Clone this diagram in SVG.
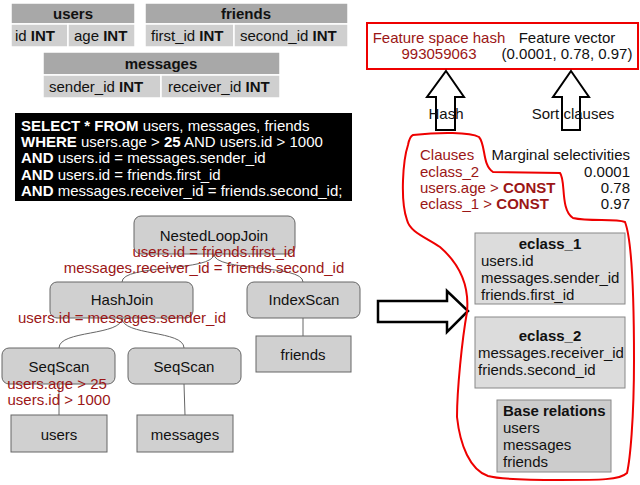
<svg xmlns="http://www.w3.org/2000/svg" width="640" height="485" viewBox="0 0 640 485">
<style>
text{font-family:"Liberation Sans",Arial,sans-serif;font-size:15px;fill:#111}
.b{font-weight:bold}
.hd{fill:#a8a8a8;stroke:#fff;stroke-width:1.5}
.cl{fill:#cfcfcf;stroke:#fff;stroke-width:1.5}
.nd{fill:#d0d0d0;stroke:#666;stroke-width:1}
.red{fill:#9b1616}
.sql{fill:#fff}
.c{text-anchor:middle}
.r{text-anchor:end}
.con{fill:none;stroke:#666;stroke-width:1}
.hol{fill:#fff;stroke:#000;stroke-width:2}
.box{fill:#dcdcdc;stroke:#888;stroke-width:1}
</style>
<rect width="640" height="485" fill="#fff"/>
<g id="table-users">
<rect class="hd" x="11" y="3" width="124" height="21"/>
<rect class="cl" x="11" y="24" width="57" height="23"/>
<rect class="cl" x="68" y="24" width="67" height="23"/>
<text class="b c" x="73" y="19">users</text>
<text x="15" y="41">id <tspan class="b">INT</tspan></text>
<text x="74" y="41">age <tspan class="b">INT</tspan></text>
</g>
<g id="table-friends">
<rect class="hd" x="145" y="3" width="203" height="21"/>
<rect class="cl" x="145" y="24" width="89" height="23"/>
<rect class="cl" x="234" y="24" width="114" height="23"/>
<text class="b c" x="246" y="19">friends</text>
<text x="151" y="41">first_id <tspan class="b">INT</tspan></text>
<text x="240" y="41">second_id <tspan class="b">INT</tspan></text>
</g>
<g id="table-messages">
<rect class="hd" x="43" y="52" width="237" height="23"/>
<rect class="cl" x="43" y="75" width="118" height="23"/>
<rect class="cl" x="161" y="75" width="119" height="23"/>
<text class="b c" x="161" y="69">messages</text>
<text x="49" y="92">sender_id <tspan class="b">INT</tspan></text>
<text x="168" y="92">receiver_id <tspan class="b">INT</tspan></text>
</g>
<g id="sql">
<rect x="15" y="113" width="337" height="88" fill="#000"/>
<text class="sql" x="21" y="131"><tspan class="b">SELECT * FROM</tspan> users, messages, friends</text>
<text class="sql" x="21" y="147"><tspan class="b">WHERE</tspan> users.age &gt; <tspan class="b">25</tspan> AND users.id &gt; 1000</text>
<text class="sql" x="21" y="163"><tspan class="b">AND</tspan> users.id = messages.sender_id</text>
<text class="sql" x="21" y="180"><tspan class="b">AND</tspan> users.id = friends.first_id</text>
<text class="sql" x="21" y="196"><tspan class="b">AND</tspan> messages.receiver_id = friends.second_id;</text>
</g>
<g id="connectors">
<path class="con" d="M214,254 C214,272 122,264 122,282"/>
<path class="con" d="M214,254 C214,272 303,264 303,282"/>
<path class="con" d="M122,318 C122,336 59,330 59,348"/>
<path class="con" d="M122,318 C122,336 184,330 184,348"/>
<path class="con" d="M303,318 L303,336"/>
<path class="con" d="M59,384 L59,415"/>
<path class="con" d="M184,384 L185,415"/>
</g>
<g id="node-nlj">
<rect class="nd" x="134" y="216" width="161" height="38" rx="7"/>
<text class="c" x="214" y="241">NestedLoopJoin</text>
</g>
<g id="node-hashjoin">
<rect class="nd" x="50" y="282" width="143" height="36" rx="7"/>
<text class="c" x="122" y="305">HashJoin</text>
</g>
<g id="node-indexscan">
<rect class="nd" x="247" y="282" width="113" height="36" rx="7"/>
<text class="c" x="304" y="305">IndexScan</text>
</g>
<g id="node-friends">
<rect class="nd" x="256" y="336" width="95" height="36"/>
<text class="c" x="303" y="360">friends</text>
</g>
<g id="node-seqscan1">
<rect class="nd" x="2" y="348" width="113" height="36" rx="7"/>
<text class="c" x="59" y="372">SeqScan</text>
</g>
<g id="node-seqscan2">
<rect class="nd" x="128" y="348" width="113" height="36" rx="7"/>
<text class="c" x="184" y="372">SeqScan</text>
</g>
<g id="node-users">
<rect class="nd" x="11" y="415" width="96" height="37"/>
<text class="c" x="59" y="440">users</text>
</g>
<g id="node-messages">
<rect class="nd" x="137" y="415" width="96" height="37"/>
<text class="c" x="185" y="440">messages</text>
</g>
<g id="labels">
<text class="red c" x="214" y="257">users.id = friends.first_id</text>
<text class="red c" x="204" y="273">messages.receiver_id = friends.second_id</text>
<text class="red c" x="122" y="323">users.id = messages.sender_id</text>
<text class="red c" x="57" y="389">users.age &gt; 25</text>
<text class="red c" x="59" y="405">users.id &gt; 1000</text>
</g>
<g id="big-arrow">
<polygon points="378,301 447,301 447,291 468,311 447,332 447,322 378,322" fill="#fff" stroke="#000" stroke-width="2.5"/>
</g>
<g id="feature">
<rect x="367" y="23" width="271" height="46" fill="#fff" stroke="#e00" stroke-width="2"/>
<text class="red c" x="439" y="43">Feature space hash</text>
<text class="red c" x="439" y="59">993059063</text>
<text class="c" x="567" y="43">Feature vector</text>
<text class="c" x="567" y="59">(0.0001, 0.78, 0.97)</text>
</g>
<g id="up-arrows">
<polygon class="hol" points="446,71 464,97 455,97 455,130 436,130 436,97 427,97"/>
<polygon class="hol" points="571,71 589,97 580,97 580,130 562,130 562,97 553,97"/>
<text class="c" x="446" y="119">Hash</text>
<text class="c" x="573" y="119">Sort clauses</text>
</g>
<g id="clauses-blob">
<path d="M413,135 C440,132 470,132 479,137 C486,145 482,165 493,172 L560,173 C566,180 560,210 573,218 C590,222 615,218 625,222 C632,240 634,300 634,360 C634,420 630,460 627,473 C620,480 600,480 560,480 C520,480 495,478 488,476 C470,470 460,445 457,417 C457,390 462,340 467,312 C470,280 455,260 440,247 C425,237 410,232 407,220 C400,200 403,160 408,145 C409,140 410,136 413,135 Z" fill="none" stroke="#e00" stroke-width="2"/>
</g>
<g id="clauses">
<text class="red" x="420" y="160">Clauses</text>
<text class="r" x="630" y="160">Marginal selectivities</text>
<text class="red" x="420" y="177">eclass_2</text>
<text class="red" x="420" y="193">users.age &gt; <tspan class="b red">CONST</tspan></text>
<text class="red" x="420" y="209">eclass_1 &gt; <tspan class="b red">CONST</tspan></text>
<text class="r" x="630" y="177">0.0001</text>
<text class="r" x="630" y="193">0.78</text>
<text class="r" x="630" y="209">0.97</text>
</g>
<g id="eclass1">
<rect class="box" x="475" y="233" width="150" height="71"/>
<text class="b c" x="550" y="249">eclass_1</text>
<text x="481" y="266">users.id</text>
<text x="481" y="283">messages.sender_id</text>
<text x="481" y="300">friends.first_id</text>
</g>
<g id="eclass2">
<rect class="box" x="475" y="317" width="150" height="71"/>
<text class="b c" x="550" y="341">eclass_2</text>
<text x="478" y="358">messages.receiver_id</text>
<text x="478" y="375">friends.second_id</text>
</g>
<g id="base-relations">
<rect x="497" y="400" width="114" height="72" fill="#cccccc" stroke="#888"/>
<text class="b" x="503" y="416">Base relations</text>
<text x="503" y="433">users</text>
<text x="503" y="450">messages</text>
<text x="503" y="467">friends</text>
</g>
</svg>
